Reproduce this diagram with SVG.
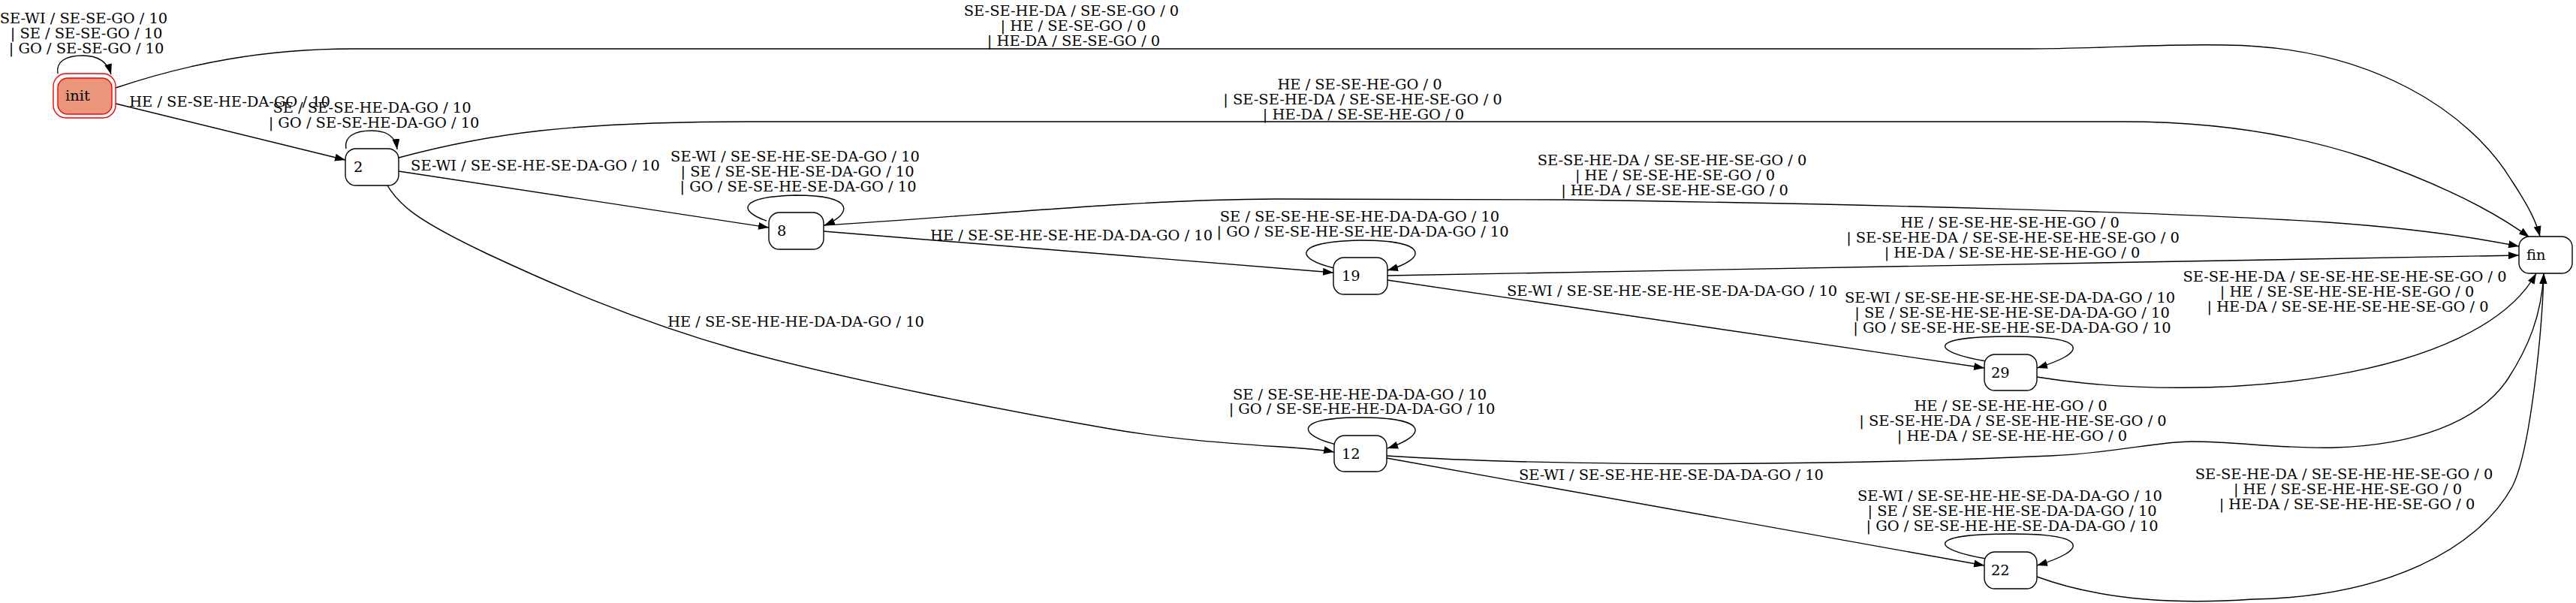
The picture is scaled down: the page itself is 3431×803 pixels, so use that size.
<svg xmlns="http://www.w3.org/2000/svg" width="3431" height="803" viewBox="0 0 3431 803">
<style>
text{font-family:"DejaVu Serif","Liberation Serif",serif;font-size:19.4px;fill:#000}
.lbl{text-anchor:middle}
.e{fill:none;stroke:#000;stroke-width:1.4;marker-end:url(#ah)}
.n{fill:#fff;stroke:#000;stroke-width:1.4}
</style>
<defs>
<marker id="ah" markerUnits="userSpaceOnUse" markerWidth="14" markerHeight="10" refX="14" refY="5" orient="auto" viewBox="0 0 14 10">
<path d="M0,0 L14,5 L0,10 z" fill="#000"/>
</marker>
</defs>
<rect width="3431" height="803" fill="#fff"/>
<g id="connectors">
<g id="e-init-init"><path class="e" d="M77,98 C74,82 88,74 110,74 C130,74 143,82 148,99"/>
<text class="lbl" x="111.5" y="30.5">SE-WI / SE-SE-GO / 10</text><text class="lbl" x="115" y="50.5">| SE / SE-SE-GO / 10</text><text class="lbl" x="115" y="70.5">| GO / SE-SE-GO / 10</text></g>
<g id="e-init-fin"><path class="e" d="M154,117 C250,85 350,65 470,65 L2700,65 C2800,65 2880,58 2964,60 C3160,62 3290,150 3345,240 C3368,275 3378,295 3383,315"/>
<text class="lbl" x="1427" y="21">SE-SE-HE-DA / SE-SE-GO / 0</text><text class="lbl" x="1429.5" y="41">| HE / SE-SE-GO / 0</text><text class="lbl" x="1430" y="61">| HE-DA / SE-SE-GO / 0</text></g>
<g id="e-init-2"><path class="e" d="M154,138 L460,213"/>
<text class="lbl" x="306" y="142">HE / SE-SE-HE-DA-GO / 10</text></g>
<g id="e-2-2"><path class="e" d="M461,198 C458,182 472,174 495,174 C515,174 527,182 529,199"/>
<text class="lbl" x="495.5" y="150">SE / SE-SE-HE-DA-GO / 10</text><text class="lbl" x="498" y="170">| GO / SE-SE-HE-DA-GO / 10</text></g>
<g id="e-2-fin"><path class="e" d="M531,210 C650,178 760,162 1000,162 L2828,162 C2950,162 3060,180 3150,210 C3250,245 3320,280 3369,316"/>
<text class="lbl" x="1811" y="119">HE / SE-SE-HE-GO / 0</text><text class="lbl" x="1815" y="139">| SE-SE-HE-DA / SE-SE-HE-SE-GO / 0</text><text class="lbl" x="1816" y="159">| HE-DA / SE-SE-HE-GO / 0</text></g>
<g id="e-2-8"><path class="e" d="M531,228 L1024,303"/>
<text class="lbl" x="713" y="227">SE-WI / SE-SE-HE-SE-DA-GO / 10</text></g>
<g id="e-2-12"><path class="e" d="M516,247 C531,272 552,292 649,338 C726,374 842,426 980,465 C1118,504 1345,548 1478,571 C1611,594 1740,594 1777,602"/>
<text class="lbl" x="1060" y="435">HE / SE-SE-HE-HE-DA-DA-GO / 10</text></g>
<g id="e-8-8"><path class="e" d="M1021,294 C985,282 980,262 1060,260 C1140,260 1135,285 1098,300"/>
<text class="lbl" x="1059" y="215">SE-WI / SE-SE-HE-SE-DA-GO / 10</text><text class="lbl" x="1062" y="235">| SE / SE-SE-HE-SE-DA-GO / 10</text><text class="lbl" x="1063" y="255">| GO / SE-SE-HE-SE-DA-GO / 10</text></g>
<g id="e-8-fin"><path class="e" d="M1097,300 C1300,288 1500,266 1700,265 L2085,266 C2500,272 2900,283 3100,296 C3200,303 3290,315 3355,328"/>
<text class="lbl" x="2227" y="220">SE-SE-HE-DA / SE-SE-HE-SE-GO / 0</text><text class="lbl" x="2231" y="240">| HE / SE-SE-HE-SE-GO / 0</text><text class="lbl" x="2230.5" y="260">| HE-DA / SE-SE-HE-SE-GO / 0</text></g>
<g id="e-8-19"><path class="e" d="M1097,308 L1776,363"/>
<text class="lbl" x="1427" y="320">HE / SE-SE-HE-SE-HE-DA-DA-GO / 10</text></g>
<g id="e-19-19"><path class="e" d="M1777,357 C1725,345 1720,322 1812,320 C1905,320 1900,345 1848,360"/>
<text class="lbl" x="1811" y="295">SE / SE-SE-HE-SE-HE-DA-DA-GO / 10</text><text class="lbl" x="1815" y="315">| GO / SE-SE-HE-SE-HE-DA-DA-GO / 10</text></g>
<g id="e-19-fin"><path class="e" d="M1848,367 L3355,340"/>
<text class="lbl" x="2677" y="303">HE / SE-SE-HE-SE-HE-GO / 0</text><text class="lbl" x="2681" y="323">| SE-SE-HE-DA / SE-SE-HE-SE-HE-SE-GO / 0</text><text class="lbl" x="2680" y="343">| HE-DA / SE-SE-HE-SE-HE-GO / 0</text></g>
<g id="e-19-29"><path class="e" d="M1848,373 L2643,490"/>
<text class="lbl" x="2227" y="394">SE-WI / SE-SE-HE-SE-HE-SE-DA-DA-GO / 10</text></g>
<g id="e-29-29"><path class="e" d="M2645,481 C2570,468 2565,448 2678,448 C2785,448 2780,470 2713,490"/>
<text class="lbl" x="2677" y="403">SE-WI / SE-SE-HE-SE-HE-SE-DA-DA-GO / 10</text><text class="lbl" x="2680" y="423">| SE / SE-SE-HE-SE-HE-SE-DA-DA-GO / 10</text><text class="lbl" x="2680" y="443">| GO / SE-SE-HE-SE-HE-SE-DA-DA-GO / 10</text></g>
<g id="e-29-fin"><path class="e" d="M2713,502 C2950,540 3300,505 3378,364"/>
<text class="lbl" x="3123" y="375">SE-SE-HE-DA / SE-SE-HE-SE-HE-SE-GO / 0</text><text class="lbl" x="3126" y="395">| HE / SE-SE-HE-SE-HE-SE-GO / 0</text><text class="lbl" x="3127" y="415">| HE-DA / SE-SE-HE-SE-HE-SE-GO / 0</text></g>
<g id="e-12-12"><path class="e" d="M1780,592 C1730,580 1720,556 1812,556 C1905,556 1900,580 1848,597"/>
<text class="lbl" x="1811" y="532">SE / SE-SE-HE-HE-DA-DA-GO / 10</text><text class="lbl" x="1814" y="551">| GO / SE-SE-HE-HE-DA-DA-GO / 10</text></g>
<g id="e-12-fin"><path class="e" d="M1847,607 C2050,620 2400,622 2731,607 C2820,603 2870,588 2920,588 C2980,588 3040,598 3110,596 C3210,593 3300,565 3340,505 C3368,462 3385,420 3388,364"/>
<text class="lbl" x="2678" y="547">HE / SE-SE-HE-HE-GO / 0</text><text class="lbl" x="2681" y="567">| SE-SE-HE-DA / SE-SE-HE-HE-SE-GO / 0</text><text class="lbl" x="2680" y="587">| HE-DA / SE-SE-HE-HE-GO / 0</text></g>
<g id="e-12-22"><path class="e" d="M1847,610 L2643,753"/>
<text class="lbl" x="2226" y="639">SE-WI / SE-SE-HE-HE-SE-DA-DA-GO / 10</text></g>
<g id="e-22-22"><path class="e" d="M2645,744 C2570,731 2565,711 2678,711 C2785,711 2780,733 2713,753"/>
<text class="lbl" x="2677" y="667">SE-WI / SE-SE-HE-HE-SE-DA-DA-GO / 10</text><text class="lbl" x="2680" y="687">| SE / SE-SE-HE-HE-SE-DA-DA-GO / 10</text><text class="lbl" x="2680" y="707">| GO / SE-SE-HE-HE-SE-DA-DA-GO / 10</text></g>
<g id="e-22-fin"><path class="e" d="M2713,768 C2800,800 2900,805 3000,798 C3180,795 3300,730 3345,650 C3370,606 3386,440 3388,364"/>
<text class="lbl" x="3122" y="638">SE-SE-HE-DA / SE-SE-HE-HE-SE-GO / 0</text><text class="lbl" x="3127" y="658">| HE / SE-SE-HE-HE-SE-GO / 0</text><text class="lbl" x="3126" y="678">| HE-DA / SE-SE-HE-HE-SE-GO / 0</text></g>
</g>
<g id="node-init"><rect x="71" y="98" width="83" height="59" rx="17" fill="none" stroke="#ff0000" stroke-width="1.4"/><rect x="77" y="104" width="72" height="48" rx="13" fill="#e9967a" stroke="#ff0000" stroke-width="1.4"/><text x="87" y="133.5">init</text></g>
<g id="node-2"><rect class="n" x="460" y="198" width="71" height="49" rx="14"/><text x="471" y="229">2</text></g>
<g id="node-8"><rect class="n" x="1024" y="283" width="73" height="49" rx="14"/><text x="1035" y="314">8</text></g>
<g id="node-19"><rect class="n" x="1776" y="343" width="72" height="49" rx="14"/><text x="1787" y="374">19</text></g>
<g id="node-12"><rect class="n" x="1777" y="580" width="70" height="48" rx="14"/><text x="1787" y="610.5">12</text></g>
<g id="node-29"><rect class="n" x="2643" y="472" width="70" height="48" rx="14"/><text x="2652" y="502.5">29</text></g>
<g id="node-22"><rect class="n" x="2643" y="735" width="70" height="49" rx="14"/><text x="2652" y="766">22</text></g>
<g id="node-fin"><rect class="n" x="3355" y="315" width="71" height="49" rx="14"/><text x="3365" y="346">fin</text></g>
</svg>
